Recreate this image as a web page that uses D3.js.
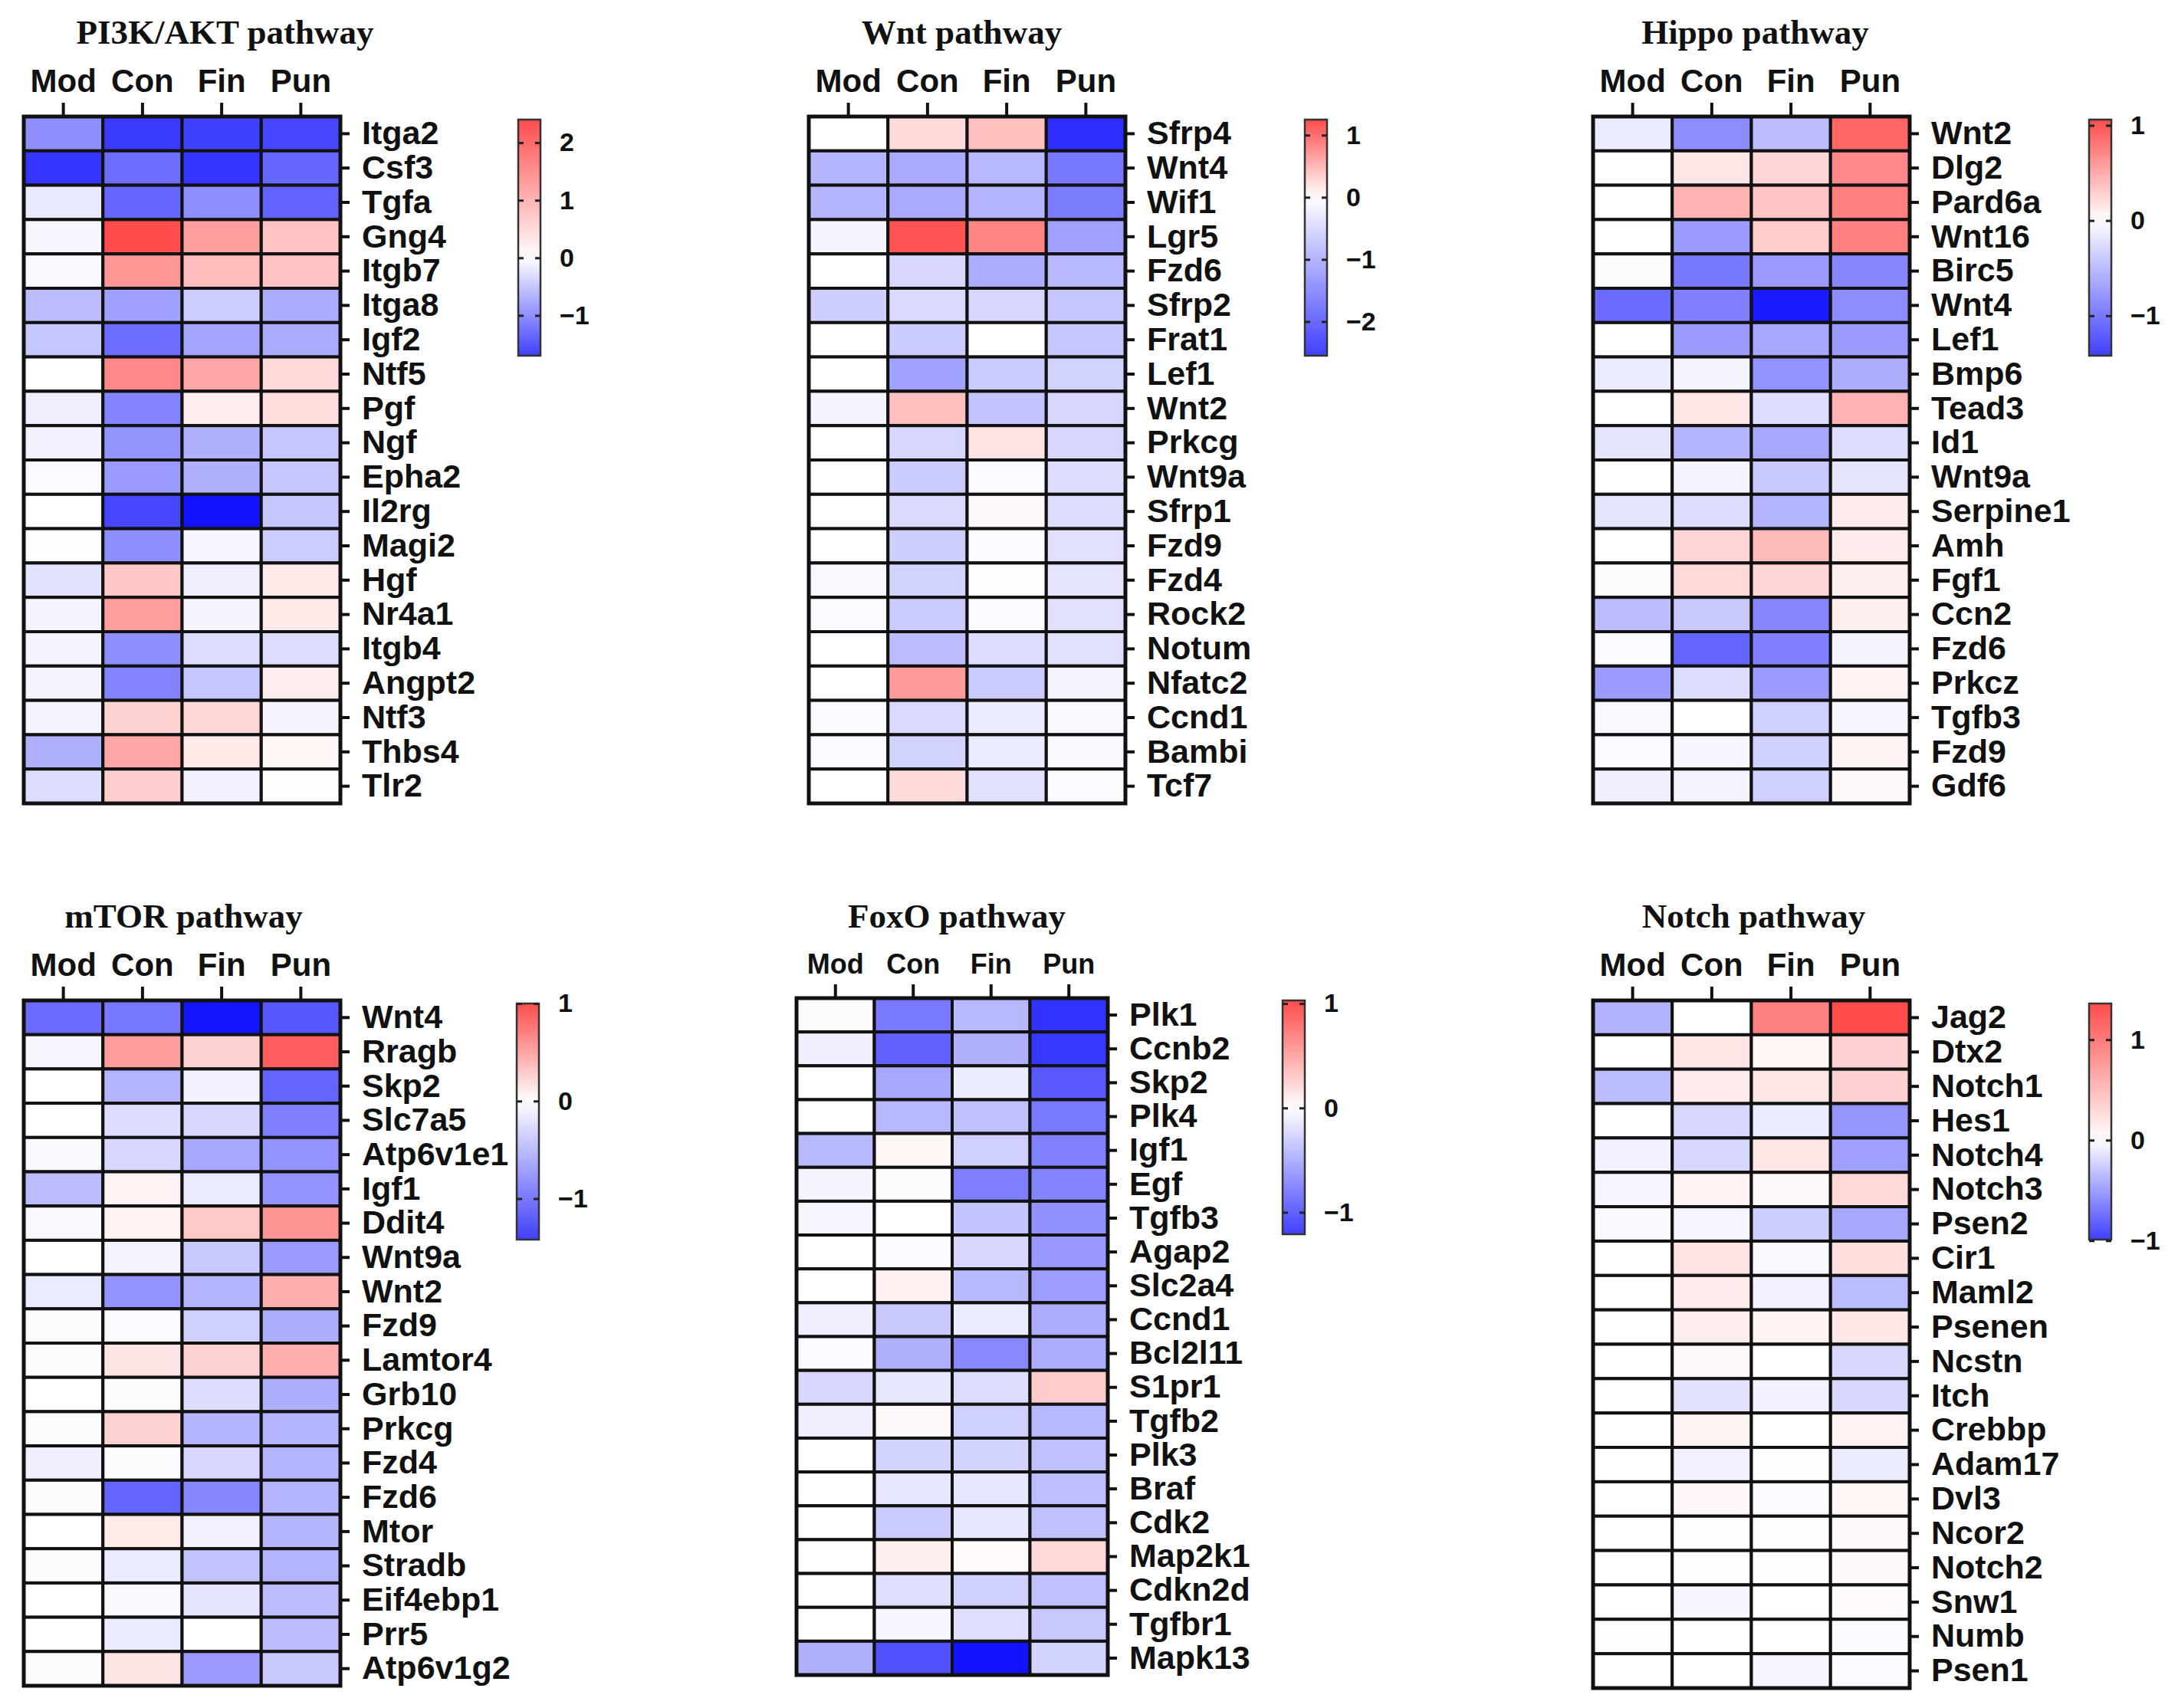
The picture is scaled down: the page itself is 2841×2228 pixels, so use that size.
<!DOCTYPE html>
<html>
<head>
<meta charset="utf-8">
<script src="https://cdn.jsdelivr.net/npm/d3@7"></script>
<style>
  body { margin: 0; background: #fff; }
  svg { display: block; }
  .title { font-family: "Liberation Serif", "Times New Roman", serif; font-weight: bold; fill: #111; }
  .lab { font-family: "Liberation Sans", Arial, sans-serif; font-weight: bold; fill: #111; }
</style>
</head>
<body>
<svg id="chart" width="2841" height="2228"></svg>
<script>
const groups = ["Mod", "Con", "Fin", "Pun"];

// PI3K/AKT
const pi3kGenes = ["Itga2","Csf3","Tgfa","Gng4","Itgb7","Itga8","Igf2","Ntf5","Pgf","Ngf","Epha2","Il2rg","Magi2","Hgf","Nr4a1","Itgb4","Angpt2","Ntf3","Thbs4","Tlr2"];
const pi3kValues = [
  [-1.0,-1.75,-1.7,-1.65],[-1.8,-1.3,-1.8,-1.35],[-0.2,-1.35,-1.0,-1.4],[-0.07,2.4,1.3,0.8],
  [-0.05,1.4,0.9,0.8],[-0.6,-0.85,-0.45,-0.75],[-0.5,-1.3,-0.8,-0.75],[0,1.6,1.2,0.5],
  [-0.15,-1.1,0.25,0.45],[-0.12,-0.95,-0.7,-0.5],[-0.04,-0.9,-0.7,-0.5],[0,-1.65,-2.1,-0.5],
  [-0.02,-1.0,-0.08,-0.45],[-0.25,0.75,-0.15,0.3],[-0.1,1.3,-0.1,0.3],[-0.1,-1.0,-0.3,-0.3],
  [-0.1,-1.1,-0.5,0.25],[-0.1,0.6,0.55,-0.1],[-0.7,1.2,0.3,0.12],[-0.3,0.65,-0.12,0.04]
];
const pi3kRange = [-1.7, 2.4];
const pi3kTicks = [-1, 0, 1, 2];

// Wnt
const wntGenes = ["Sfrp4","Wnt4","Wif1","Lgr5","Fzd6","Sfrp2","Frat1","Lef1","Wnt2","Prkcg","Wnt9a","Sfrp1","Fzd9","Fzd4","Rock2","Notum","Nfatc2","Ccnd1","Bambi","Tcf7"];
const wntValues = [
  [0,0.25,0.45,-2.8],[-1.0,-1.15,-0.95,-1.8],[-1.0,-1.15,-1.0,-1.75],[-0.15,1.2,0.85,-1.25],
  [0,-0.55,-1.1,-0.95],[-0.65,-0.5,-0.55,-0.75],[0,-0.7,0,-0.75],[0,-1.25,-0.7,-0.6],
  [-0.15,0.45,-0.8,-0.55],[0,-0.55,0.2,-0.55],[0,-0.7,-0.05,-0.45],[0,-0.5,0.05,-0.45],
  [0,-0.65,-0.05,-0.4],[-0.1,-0.6,-0.02,-0.35],[-0.05,-0.7,-0.05,-0.4],[0,-0.9,-0.45,-0.4],
  [0,0.7,-0.7,-0.15],[-0.05,-0.5,-0.25,-0.1],[-0.05,-0.6,-0.25,-0.1],[0,0.25,-0.4,-0.05]
];
const wntRange = [-2.55, 1.25];
const wntTicks = [-2, -1, 0, 1];

// Hippo
const hippoGenes = ["Wnt2","Dlg2","Pard6a","Wnt16","Birc5","Wnt4","Lef1","Bmp6","Tead3","Id1","Wnt9a","Serpine1","Amh","Fgf1","Ccn2","Fzd6","Prkcz","Tgfb3","Fzd9","Gdf6"];
const hippoValues = [
  [-0.15,-0.85,-0.5,0.9],[0,0.15,0.25,0.7],[0,0.45,0.35,0.75],[0,-0.75,0.3,0.75],
  [-0.02,-1.0,-0.75,-0.9],[-1.1,-0.95,-1.7,-0.85],[0,-0.75,-0.65,-0.75],[-0.15,-0.08,-0.8,-0.6],
  [0,0.15,-0.25,0.45],[-0.2,-0.55,-0.65,-0.25],[0,-0.08,-0.4,-0.2],[-0.2,-0.25,-0.55,0.12],
  [0,0.25,0.4,0.12],[-0.02,0.23,0.25,0.1],[-0.5,-0.4,-0.9,0.1],[-0.03,-1.15,-0.95,-0.08],
  [-0.75,-0.25,-0.75,0.07],[-0.05,0,-0.35,-0.06],[-0.04,-0.06,-0.35,0.06],[-0.12,-0.08,-0.35,0.04]
];
const hippoRange = [-1.42, 1.06];
const hippoTicks = [-1, 0, 1];

// mTOR
const mtorGenes = ["Wnt4","Rragb","Skp2","Slc7a5","Atp6v1e1","Igf1","Ddit4","Wnt9a","Wnt2","Fzd9","Lamtor4","Grb10","Prkcg","Fzd4","Fzd6","Mtor","Stradb","Eif4ebp1","Prr5","Atp6v1g2"];
const mtorValues = [
  [-1.1,-1.0,-1.75,-1.25],[-0.07,0.55,0.25,0.9],[0,-0.55,-0.1,-1.15],[0,-0.25,-0.3,-0.95],
  [-0.05,-0.3,-0.65,-0.8],[-0.5,0.07,-0.15,-0.8],[-0.05,0.07,0.3,0.6],[0,-0.08,-0.4,-0.75],
  [-0.15,-0.8,-0.55,0.45],[-0.02,-0.04,-0.35,-0.6],[-0.02,0.15,0.25,0.45],[0,-0.02,-0.25,-0.6],
  [-0.02,0.25,-0.55,-0.55],[-0.12,-0.02,-0.3,-0.55],[-0.02,-1.15,-0.9,-0.55],[0,0.12,-0.1,-0.55],
  [-0.02,-0.15,-0.45,-0.55],[0,-0.05,-0.2,-0.5],[0,-0.15,0,-0.5],[-0.02,0.15,-0.75,-0.4]
];
const mtorRange = [-1.42, 1.0];
const mtorTicks = [-1, 0, 1];

// FoxO
const foxoGenes = ["Plk1","Ccnb2","Skp2","Plk4","Igf1","Egf","Tgfb3","Agap2","Slc2a4","Ccnd1","Bcl2l11","S1pr1","Tgfb2","Plk3","Braf","Cdk2","Map2k1","Cdkn2d","Tgfbr1","Mapk13"];
const foxoValues = [
  [-0.02,-0.85,-0.45,-1.3],[-0.1,-1.0,-0.5,-1.27],[0,-0.55,-0.12,-1.05],[0,-0.45,-0.4,-0.85],
  [-0.45,0.05,-0.3,-0.8],[-0.07,-0.02,-0.82,-0.78],[-0.06,0,-0.38,-0.7],[0,-0.03,-0.25,-0.65],
  [0,0.08,-0.45,-0.62],[-0.1,-0.35,-0.12,-0.52],[-0.03,-0.5,-0.75,-0.52],[-0.25,-0.15,-0.22,0.3],
  [-0.1,0.04,-0.3,-0.45],[0,-0.28,-0.28,-0.4],[0,-0.15,-0.15,-0.42],[0,-0.33,-0.15,-0.4],
  [0,0.1,0.03,0.22],[0,-0.2,-0.3,-0.4],[0,-0.05,-0.2,-0.35],[-0.5,-1.1,-1.5,-0.28]
];
const foxoRange = [-1.21, 1.03];
const foxoTicks = [-1, 0, 1];

// Notch
const notchGenes = ["Jag2","Dtx2","Notch1","Hes1","Notch4","Notch3","Psen2","Cir1","Maml2","Psenen","Ncstn","Itch","Crebbp","Adam17","Dvl3","Ncor2","Notch2","Snw1","Numb","Psen1"];
const notchValues = [
  [-0.4,0,0.95,1.36],[0,0.2,0.07,0.35],[-0.35,0.15,0.2,0.35],[0,-0.2,-0.1,-0.55],
  [-0.07,-0.2,0.2,-0.5],[-0.05,0.1,0.05,0.3],[-0.03,-0.05,-0.25,-0.45],[0,0.22,-0.03,0.25],
  [0,0.15,-0.08,-0.35],[0,0.14,0.1,0.18],[0,0.05,0,-0.2],[0,-0.15,-0.07,-0.2],
  [0,0.08,0,0.1],[0,-0.08,0.02,-0.1],[0,0.06,-0.02,0.07],[0,0.02,0.02,0.05],
  [0,0.02,0.02,0.05],[0,-0.04,0,0.04],[-0.01,0,0,-0.02],[0,0,-0.05,-0.02]
];
const notchRange = [-0.99, 1.36];
const notchTicks = [-1, 0, 1];

const panels = [
  { title: "PI3K/AKT pathway", genes: pi3kGenes, values: pi3kValues, range: pi3kRange, ticks: pi3kTicks,
    x: 31, y: 152, w: 413, h: 896, barX: 676, barY: 156, barH: 308, titleY: 57, titleDx: 56, colFont: 42 },
  { title: "Wnt pathway", genes: wntGenes, values: wntValues, range: wntRange, ticks: wntTicks,
    x: 1055, y: 152, w: 413, h: 896, barX: 1702, barY: 156, barH: 308, titleY: 57, titleDx: -7, colFont: 42 },
  { title: "Hippo pathway", genes: hippoGenes, values: hippoValues, range: hippoRange, ticks: hippoTicks,
    x: 2078, y: 152, w: 413, h: 896, barX: 2725, barY: 156, barH: 308, titleY: 57, titleDx: 5, colFont: 42 },
  { title: "mTOR pathway", genes: mtorGenes, values: mtorValues, range: mtorRange, ticks: mtorTicks,
    x: 31, y: 1305, w: 413, h: 894, barX: 674, barY: 1309, barH: 308, titleY: 1210, titleDx: 2, colFont: 42 },
  { title: "FoxO pathway", genes: foxoGenes, values: foxoValues, range: foxoRange, ticks: foxoTicks,
    x: 1039, y: 1302, w: 406, h: 883, barX: 1673, barY: 1305, barH: 305, titleY: 1210, titleDx: 6, colFont: 36 },
  { title: "Notch pathway", genes: notchGenes, values: notchValues, range: notchRange, ticks: notchTicks,
    x: 2078, y: 1305, w: 413, h: 897, barX: 2725, barY: 1309, barH: 308, titleY: 1210, titleDx: 3, colFont: 42 }
];

const svg = d3.select("#chart");
svg.append("rect").attr("width", 2841).attr("height", 2228).attr("fill", "#fff");
const defs = svg.append("defs");

const blueEnd = "#4040ff";
const redEnd = "#ff4c4c";
const barW = 29;

function renderPanel(p, idx) {
  const g = svg.append("g").attr("transform", `translate(${p.x},${p.y})`);

  const xScale = d3.scaleBand().domain(groups).range([0, p.w]);
  const yScale = d3.scaleBand().domain(p.genes).range([0, p.h]);
  const color = d3.scaleLinear()
    .domain([p.range[0], 0, p.range[1]])
    .range([blueEnd, "#ffffff", redEnd]);

  const cells = [];
  p.genes.forEach((gene, i) => groups.forEach((grp, j) => cells.push({ gene, grp, v: p.values[i][j] })));

  g.selectAll("rect.cell")
    .data(cells)
    .enter()
    .append("rect")
    .attr("class", "cell")
    .attr("x", d => xScale(d.grp))
    .attr("y", d => yScale(d.gene))
    .attr("width", xScale.bandwidth())
    .attr("height", yScale.bandwidth())
    .attr("fill", d => color(d.v))
    .attr("stroke", "#111")
    .attr("stroke-width", 4);

  g.append("rect")
    .attr("width", p.w).attr("height", p.h)
    .attr("fill", "none").attr("stroke", "#111").attr("stroke-width", 5);

  // column labels
  const topAxis = g.append("g")
    .call(d3.axisTop(xScale).tickSize(18).tickSizeOuter(0).tickPadding(14));
  topAxis.select(".domain").remove();
  topAxis.selectAll("line").attr("stroke", "#111").attr("stroke-width", 4);
  topAxis.selectAll("text").attr("class", "lab").style("font-size", p.colFont + "px");

  // row labels
  const rightAxis = g.append("g")
    .attr("transform", `translate(${p.w},0)`)
    .call(d3.axisRight(yScale).tickSize(12).tickSizeOuter(0).tickPadding(16));
  rightAxis.select(".domain").remove();
  rightAxis.selectAll("line").attr("stroke", "#111").attr("stroke-width", 4);
  rightAxis.selectAll("text").attr("class", "lab").style("font-size", "43px");

  // title
  svg.append("text")
    .attr("class", "title")
    .attr("x", p.x + p.w / 2 + p.titleDx)
    .attr("y", p.titleY)
    .attr("text-anchor", "middle")
    .style("font-size", "45px")
    .text(p.title);

  // colour bar
  const gradId = "grad" + idx;
  const grad = defs.append("linearGradient")
    .attr("id", gradId).attr("x1", 0).attr("y1", 1).attr("x2", 0).attr("y2", 0);
  const barScale = d3.scaleLinear().domain(p.range).range([p.barH, 0]);
  d3.range(0, 1.0001, 0.05).forEach(t => {
    const v = p.range[0] + t * (p.range[1] - p.range[0]);
    grad.append("stop").attr("offset", t).attr("stop-color", color(v));
  });
  const bar = svg.append("g").attr("transform", `translate(${p.barX},${p.barY})`);
  bar.append("rect")
    .attr("width", barW).attr("height", p.barH)
    .attr("fill", `url(#${gradId})`)
    .attr("stroke", "#333").attr("stroke-width", 2.5);

  const fmt = d => d < 0 ? "\u2212" + Math.abs(d) : d;
  const leftTicks = bar.append("g")
    .call(d3.axisLeft(barScale).tickValues(p.ticks).tickSize(-7).tickFormat(""));
  leftTicks.select(".domain").remove();
  leftTicks.selectAll("line").attr("stroke", "#222").attr("stroke-width", 3);

  const barAxis = bar.append("g")
    .attr("transform", `translate(${barW},0)`)
    .call(d3.axisRight(barScale).tickValues(p.ticks).tickSize(-7).tickPadding(25).tickFormat(fmt));
  barAxis.select(".domain").remove();
  barAxis.selectAll("line").attr("stroke", "#222").attr("stroke-width", 3);
  barAxis.selectAll("text").attr("class", "lab").style("font-size", "34px");
}

panels.forEach(renderPanel);
</script>
</body>
</html>
